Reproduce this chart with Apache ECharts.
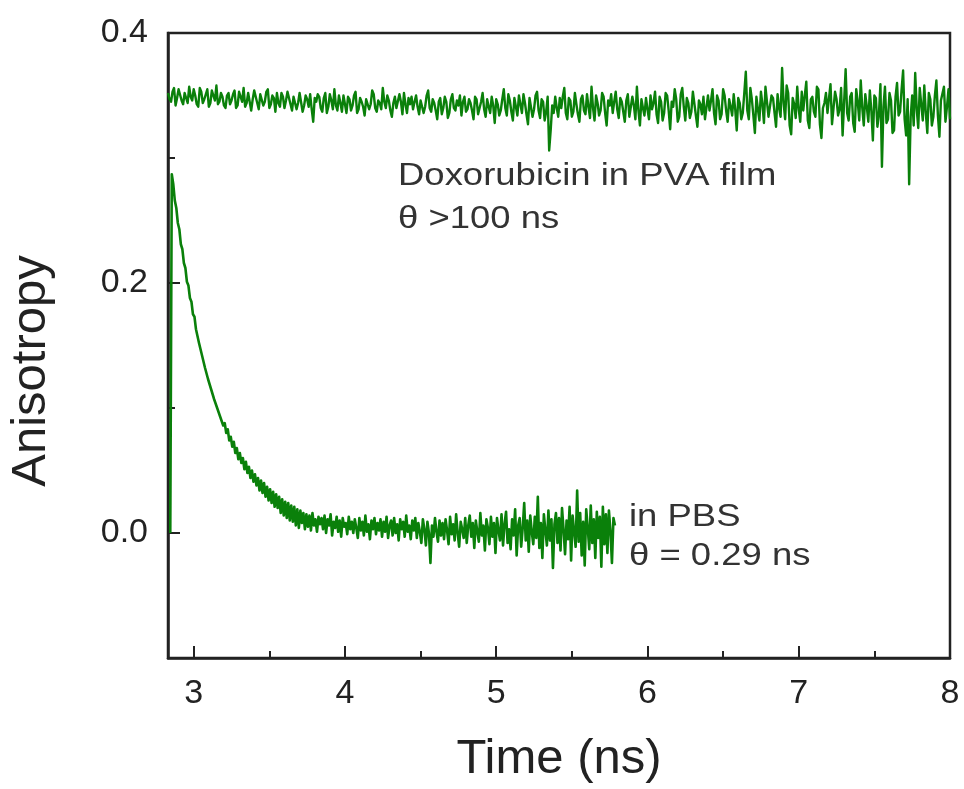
<!DOCTYPE html>
<html>
<head>
<meta charset="utf-8">
<script src="https://cdn.jsdelivr.net/npm/echarts@6/dist/echarts.min.js"></script>
<style>html,body{margin:0;padding:0;background:#fff}#c{width:964px;height:789px}</style>
</head>
<body>
<div id="c"></div>
<script>
// Sampling of the traces (ns)
const pvaStart = 2.83;
const pbsStart = 2.845;
const sampleStep = 0.01;

// Doxorubicin in PVA film — anisotropy values
const pvaValues = [
0.352,0.347,0.345,0.353,0.356,0.342,0.348,0.355,0.354,0.346,0.343,0.352,0.351,0.344,0.357,0.349,0.346,0.355,0.350,0.343,
0.341,0.356,0.353,0.344,0.347,0.351,0.355,0.341,0.344,0.354,0.350,0.346,0.358,0.343,0.345,0.352,0.349,0.342,0.340,0.350,
0.352,0.343,0.346,0.351,0.354,0.340,0.342,0.353,0.349,0.345,0.356,0.341,0.344,0.352,0.351,0.338,0.347,0.354,0.353,0.344,
0.339,0.351,0.350,0.342,0.345,0.353,0.355,0.340,0.343,0.350,0.348,0.337,0.352,0.344,0.341,0.352,0.349,0.340,0.346,0.353,
0.354,0.343,0.338,0.349,0.350,0.339,0.344,0.352,0.353,0.337,0.342,0.350,0.347,0.341,0.351,0.339,0.329,0.348,0.345,0.351,
0.349,0.340,0.337,0.348,0.352,0.336,0.341,0.351,0.346,0.339,0.355,0.342,0.338,0.350,0.344,0.337,0.350,0.343,0.336,0.349,
0.347,0.338,0.342,0.350,0.353,0.336,0.339,0.348,0.345,0.341,0.334,0.347,0.348,0.339,0.343,0.354,0.351,0.340,0.337,0.346,
0.344,0.339,0.356,0.345,0.340,0.350,0.346,0.338,0.333,0.344,0.349,0.340,0.341,0.351,0.345,0.335,0.352,0.343,0.336,0.348,
0.343,0.349,0.339,0.345,0.350,0.341,0.335,0.346,0.347,0.336,0.341,0.350,0.354,0.340,0.337,0.347,0.344,0.338,0.331,0.345,
0.348,0.335,0.340,0.349,0.345,0.332,0.336,0.347,0.351,0.340,0.338,0.346,0.342,0.350,0.334,0.345,0.349,0.337,0.339,0.347,
0.344,0.338,0.331,0.349,0.347,0.335,0.336,0.345,0.352,0.339,0.333,0.347,0.341,0.336,0.349,0.342,0.328,0.347,0.343,0.334,
0.338,0.347,0.355,0.340,0.334,0.351,0.346,0.337,0.330,0.348,0.341,0.334,0.350,0.343,0.336,0.351,0.344,0.335,0.327,0.348,
0.347,0.333,0.339,0.350,0.353,0.338,0.332,0.347,0.345,0.330,0.337,0.349,0.306,0.322,0.342,0.336,0.349,0.340,0.333,0.348,
0.340,0.349,0.356,0.336,0.331,0.348,0.346,0.333,0.337,0.352,0.343,0.335,0.329,0.347,0.350,0.338,0.335,0.351,0.341,0.332,
0.357,0.340,0.330,0.350,0.344,0.334,0.338,0.352,0.349,0.336,0.326,0.346,0.342,0.351,0.336,0.345,0.353,0.339,0.332,0.348,
0.345,0.337,0.329,0.346,0.351,0.333,0.334,0.349,0.342,0.331,0.357,0.338,0.326,0.347,0.340,0.334,0.348,0.339,0.331,0.350,
0.339,0.344,0.353,0.335,0.328,0.349,0.345,0.330,0.336,0.352,0.350,0.338,0.323,0.345,0.341,0.355,0.347,0.329,0.333,0.351,
0.356,0.341,0.330,0.348,0.344,0.332,0.337,0.353,0.352,0.334,0.325,0.346,0.343,0.335,0.349,0.331,0.332,0.350,0.338,0.346,
0.355,0.336,0.327,0.350,0.346,0.331,0.335,0.355,0.350,0.338,0.329,0.347,0.341,0.334,0.351,0.339,0.322,0.348,0.344,0.331,
0.336,0.352,0.369,0.338,0.331,0.356,0.347,0.334,0.320,0.349,0.339,0.330,0.353,0.343,0.328,0.357,0.345,0.333,0.334,0.350,
0.348,0.336,0.325,0.351,0.340,0.333,0.372,0.344,0.331,0.358,0.352,0.326,0.319,0.348,0.343,0.332,0.357,0.339,0.329,0.353,
0.338,0.350,0.361,0.330,0.324,0.347,0.349,0.337,0.333,0.357,0.355,0.327,0.316,0.340,0.344,0.352,0.336,0.348,0.359,0.327,
0.327,0.353,0.347,0.334,0.339,0.356,0.318,0.345,0.371,0.336,0.330,0.349,0.352,0.328,0.321,0.355,0.345,0.330,0.362,0.340,
0.326,0.351,0.341,0.329,0.354,0.338,0.314,0.350,0.348,0.325,0.335,0.359,0.293,0.341,0.357,0.328,0.331,0.352,0.346,0.320,
0.322,0.349,0.360,0.334,0.337,0.355,0.370,0.331,0.318,0.347,0.279,0.333,0.350,0.326,0.368,0.339,0.324,0.356,0.343,0.330,
0.358,0.336,0.320,0.352,0.347,0.326,0.333,0.350,0.362,0.334,0.317,0.346,0.345,0.357,0.329,0.341,0.355,0.331
];

// Doxorubicin in PBS — anisotropy values (first sample is before the rise)
const pbsValues = [
0.000,
0.287,0.279,0.266,0.260,0.248,0.243,0.231,0.227,0.216,0.212,
0.201,0.198,0.188,0.185,0.175,0.173,0.163,0.162,0.152,0.151,
0.142,0.141,0.132,0.132,0.123,0.123,0.115,0.115,0.107,0.108,
0.100,0.101,0.093,0.094,0.086,0.088,0.080,0.083,0.074,0.077,
0.069,0.073,0.064,0.068,0.059,0.064,0.056,0.060,0.051,0.057,
0.048,0.053,0.044,0.050,0.041,0.047,0.038,0.044,0.034,0.042,
0.032,0.040,0.029,0.037,0.026,0.035,0.024,0.033,0.021,0.031,
0.020,0.029,0.016,0.027,0.014,0.025,0.012,0.024,0.010,0.022,
0.009,0.021,0.006,0.019,0.004,0.018,0.008,0.016,0.003,0.015,
0.005,0.014,0.002,0.016,0.006,0.011,0.001,0.013,0.007,0.012,
0.003,0.014,0.000,0.011,0.006,0.015,-0.002,0.009,0.004,0.013,0.001,0.010,-0.003,0.012,0.005,0.008,-0.001,0.013,0.003,0.009,
0.000,0.011,0.004,-0.004,0.012,0.002,0.009,-0.002,0.014,0.001,0.007,-0.005,0.010,0.003,0.012,-0.001,0.008,0.002,0.011,-0.003,
0.009,0.001,0.013,-0.004,0.006,0.010,-0.002,0.012,0.000,0.007,-0.006,0.011,0.003,0.009,-0.003,0.014,0.001,0.006,-0.005,0.010,
0.002,0.012,-0.004,0.008,0.001,-0.008,0.011,0.003,-0.010,0.009,0.000,-0.024,0.006,-0.003,0.012,0.001,-0.007,0.010,-0.002,0.008,
-0.005,0.011,0.002,-0.009,0.013,-0.001,0.007,-0.006,0.015,0.000,-0.011,0.009,0.003,-0.004,0.012,-0.008,0.006,0.014,-0.003,0.008,
-0.012,0.010,0.001,-0.007,0.016,-0.002,0.006,-0.014,0.011,0.004,-0.009,0.013,-0.003,0.008,-0.016,0.012,0.002,-0.006,0.015,-0.010,
0.007,0.017,-0.008,0.003,-0.013,0.011,-0.002,0.019,-0.018,0.006,0.012,-0.011,0.004,0.024,-0.006,0.010,-0.015,0.014,0.001,-0.009,
0.013,-0.004,0.029,-0.012,0.008,-0.020,0.015,0.002,-0.010,0.018,-0.006,0.011,-0.028,0.007,0.016,-0.008,0.012,-0.014,0.020,0.003,
-0.017,0.010,-0.005,0.021,-0.022,0.014,0.001,-0.011,0.034,-0.007,0.016,-0.018,0.009,-0.026,0.019,0.004,-0.013,0.022,-0.008,0.011,
-0.020,0.017,-0.004,0.013,-0.027,0.021,-0.009,0.015,-0.016,0.018,0.002,-0.024,0.012,0.006
];

// Axis ticks
const xMajorTicks = [3, 4, 5, 6, 7, 8];
const xMinorTicks = [3.5, 4.5, 5.5, 6.5, 7.5];
const yMajorTicks = [0, 0.2, 0.4];
const yMinorTicks = [-0.1, 0.1, 0.3];

const xLabel = 'Time (ns)';
const yLabel = 'Anisotropy';
const annotations = [
  { text: 'Doxorubicin in PVA film', left: 398, y: 176 },
  { text: 'θ >100 ns', left: 398, y: 219 },
  { text: 'in PBS', left: 629, y: 517 },
  { text: 'θ = 0.29 ns', left: 629, y: 556 }
];

const pvaData = pvaValues.map((v, i) => [pvaStart + i * sampleStep, v]);
const pbsData = pbsValues.map((v, i) => [pbsStart + i * sampleStep, v]);

const FONT = '"Liberation Sans", Arial, sans-serif';
const AX = '#222';
const GREEN = '#0a800a';

const chart = echarts.init(document.getElementById('c'), null, { renderer: 'canvas' });

chart.setOption({
  animation: false,
  backgroundColor: '#fff',
  grid: {
    left: 168, right: 14, top: 33, bottom: 129,
    show: true, borderColor: AX, borderWidth: 2.5, backgroundColor: 'transparent'
  },
  xAxis: [
    {
      type: 'value', min: 2.83, max: 8, position: 'bottom',
      splitLine: { show: false },
      axisLine: { show: true, onZero: false, lineStyle: { color: AX, width: 2.5 } },
      axisTick: { show: true, inside: true, length: 12, customValues: xMajorTicks, lineStyle: { color: AX, width: 2 } },
      axisLabel: { show: true, customValues: xMajorTicks, margin: 19, color: AX, fontSize: 34, fontFamily: FONT },
      name: xLabel, nameLocation: 'middle', nameGap: 77,
      nameTextStyle: { color: AX, fontSize: 49, fontFamily: FONT }
    },
    {
      type: 'value', min: 2.83, max: 8, position: 'bottom',
      splitLine: { show: false },
      axisLine: { show: false, onZero: false },
      axisTick: { show: true, inside: true, length: 7, customValues: xMinorTicks, lineStyle: { color: AX, width: 2 } },
      axisLabel: { show: false }
    }
  ],
  yAxis: [
    {
      type: 'value', min: -0.1, max: 0.4, position: 'left',
      splitLine: { show: false },
      axisLine: { show: true, onZero: false, lineStyle: { color: AX, width: 2.5 } },
      axisTick: { show: true, inside: true, length: 12, customValues: yMajorTicks, lineStyle: { color: AX, width: 2 } },
      axisLabel: {
        show: true, customValues: yMajorTicks, margin: 20, color: AX, fontSize: 34, fontFamily: FONT,
        formatter: v => v.toFixed(1)
      }
    },
    {
      type: 'value', min: -0.1, max: 0.4, position: 'left',
      splitLine: { show: false },
      axisLine: { show: false, onZero: false },
      axisTick: { show: true, inside: true, length: 7, customValues: yMinorTicks, lineStyle: { color: AX, width: 2 } },
      axisLabel: { show: false }
    }
  ],
  series: [
    {
      name: 'Doxorubicin in PVA film', type: 'line', data: pvaData,
      xAxisIndex: 0, yAxisIndex: 0, showSymbol: false, symbol: 'none', sampling: null,
      lineStyle: { color: GREEN, width: 2.4, join: 'round' }, clip: true, z: 3
    },
    {
      name: 'in PBS', type: 'line', data: pbsData,
      xAxisIndex: 0, yAxisIndex: 0, showSymbol: false, symbol: 'none', sampling: null,
      lineStyle: { color: GREEN, width: 2.6, join: 'round' }, clip: true, z: 3
    }
  ],
  graphic: [
    {
      type: 'text', x: 31, y: 371, rotation: Math.PI / 2, z: 10,
      style: { text: yLabel, fill: AX, fontSize: 49, fontFamily: FONT, align: 'center', verticalAlign: 'middle' }
    }
  ].concat(annotations.map(a => ({
    type: 'text', x: a.left, y: a.y, scaleX: 1.14, z: 10,
    style: { text: a.text, fill: '#333', fontSize: 32, fontFamily: FONT, verticalAlign: 'middle' }
  })))
});
</script>
</body>
</html>
